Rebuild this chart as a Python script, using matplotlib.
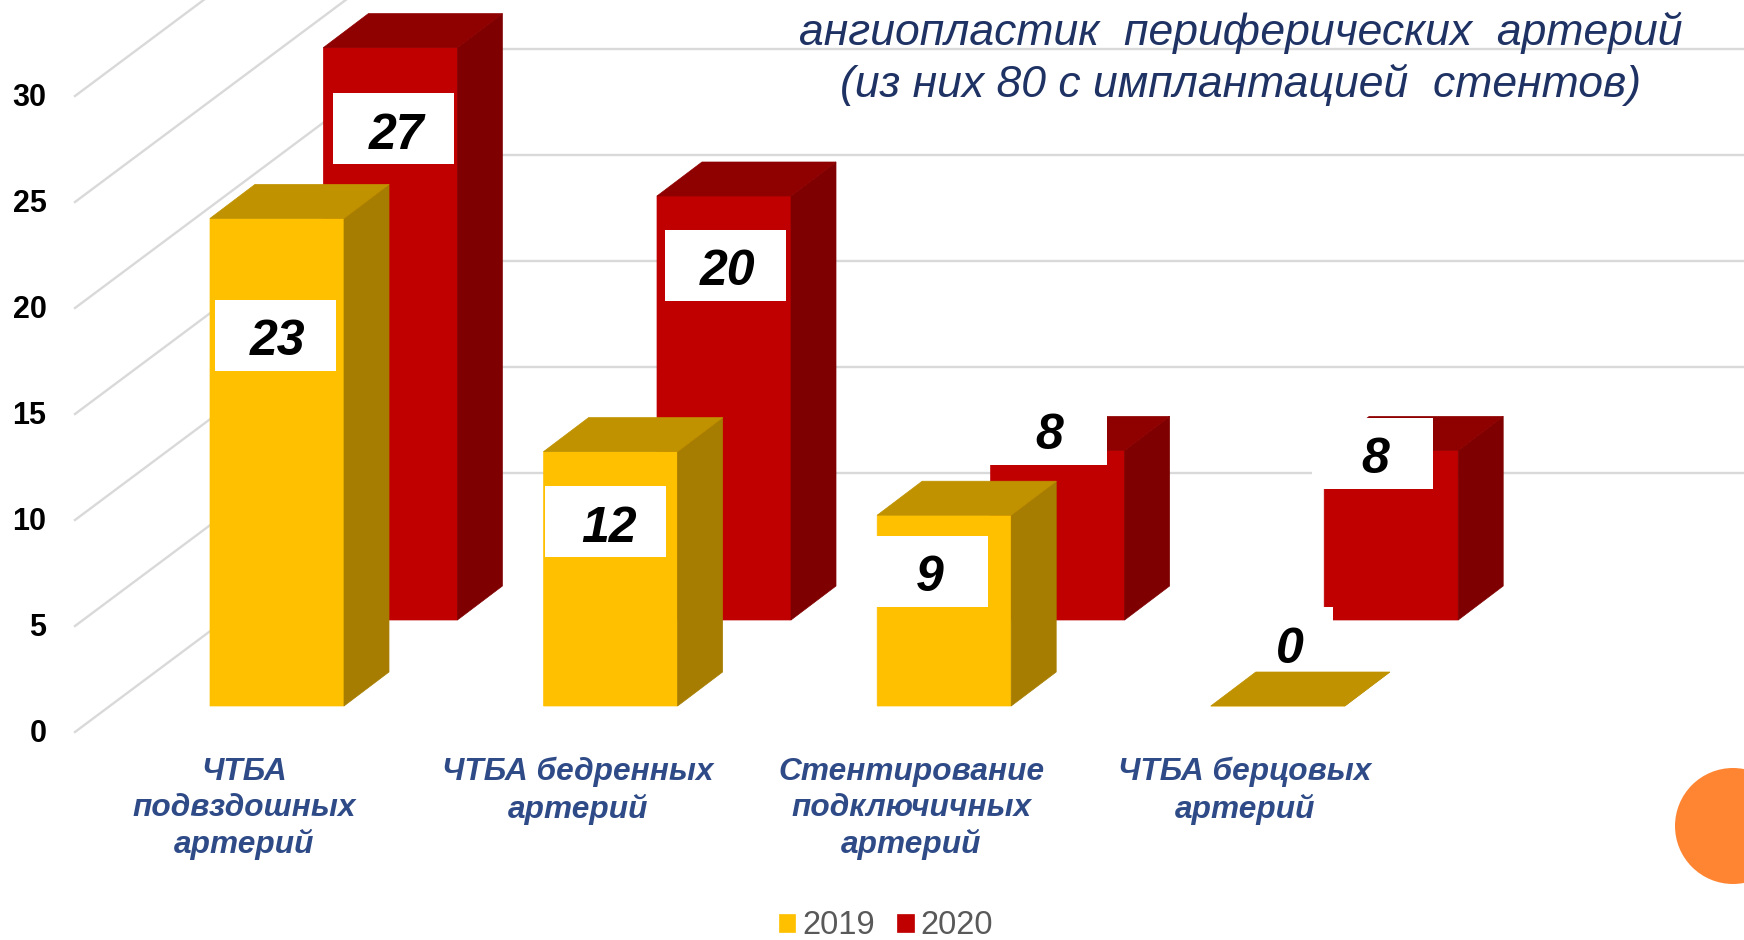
import matplotlib
matplotlib.use("Agg")
import matplotlib.pyplot as plt
from matplotlib.patches import Circle, Polygon, Rectangle
from matplotlib.transforms import IdentityTransform, ScaledTranslation

plt.rcParams['font.family'] = ['Liberation Sans', 'DejaVu Sans']

CATEGORIES = ["ЧТБА\nподвздошных\nартерий", "ЧТБА бедренных\nартерий",
              "Стентирование\nподключичных\nартерий", "ЧТБА берцовых\nартерий"]
VALUES_2019 = [23, 12, 9, 0]
VALUES_2020 = [27, 20, 8, 8]
Y_TICKS = [0, 5, 10, 15, 20, 25, 30]
TITLE = "ангиопластик  периферических  артерий\n(из них 80 с имплантацией  стентов)"

# white label boxes: offset in px from the centre/top of the bar's front face
BOX_2019 = [(-2, 117), (-5, 70), (-17, 56), (-5, -64)]
BOX_2020 = [(3, 81), (1, 69), (-11, -21), (-19, 3)]
TEXT_SHIFT = [(3, 7), (3, 7), (3, 7), (17, 8)]

W, H = 1744, 940
AX_LEFT, AX_BOTTOM = 52, 752
PX_X = 333.6   # px per category
PX_Y = 21.2    # px per value unit
X0_PX, Y0_PX = 277, 732

BAR_W = 134 / PX_X
DEPTH_X, DEPTH_Y = 45 / PX_X, 34 / PX_Y
BASE_2019 = (Y0_PX - 706) / PX_Y
BASE_2020 = (Y0_PX - 620) / PX_Y
SHIFT_2020 = 113.4 / PX_X
WALL_X0, WALL_X1, WALL_RISE = -202 / PX_X, 145 / PX_X, 259 / PX_Y


def draw_bars(ax, xs, values, base, colors, z, label):
    front, side, top = colors
    ax.bar(xs, values, BAR_W, bottom=base, color=front, edgecolor=front, lw=0.5, zorder=z,
           label=label, snap=False)
    for x, v in zip(xs, values):
        left, right = x - BAR_W / 2, x + BAR_W / 2
        y = base + v
        ax.add_patch(Polygon([(right, base), (right + DEPTH_X, base + DEPTH_Y),
                              (right + DEPTH_X, y + DEPTH_Y), (right, y)],
                             facecolor=side, edgecolor=side, lw=0.5, zorder=z))
        ax.add_patch(Polygon([(left, y), (left + DEPTH_X, y + DEPTH_Y),
                              (right + DEPTH_X, y + DEPTH_Y), (right, y)],
                             facecolor=top, edgecolor=top, lw=0.5, zorder=z))


def draw_labels(ax, xs, values, base, boxes, shifts):
    box_w, box_h = 121 / PX_X, 71 / PX_Y
    for i, (x, v) in enumerate(zip(xs, values)):
        cx = x + boxes[i][0] / PX_X
        cy = base + v - boxes[i][1] / PX_Y
        ax.add_patch(Rectangle((cx - box_w / 2, cy - box_h / 2), box_w, box_h,
                               color="white", lw=0, zorder=3 if v == 0 else 6))
        sx, sy = shifts[i]
        ax.text(cx + sx / PX_X, cy - sy / PX_Y, str(v), ha="center", va="center",
                fontsize=36, fontweight="bold", fontstyle="italic", color="black", zorder=7)


fig = plt.figure(figsize=(W / 100, H / 100), dpi=100)
ax = fig.add_axes([AX_LEFT / W, 1 - AX_BOTTOM / H, 1 - AX_LEFT / W, AX_BOTTOM / H])
ax.set_xlim((AX_LEFT - X0_PX) / PX_X, (W - X0_PX) / PX_X)
ax.set_ylim((Y0_PX - AX_BOTTOM) / PX_Y, Y0_PX / PX_Y)
for s in ax.spines.values():
    s.set_visible(False)

# walls of the 3d box
x_end = (W - X0_PX) / PX_X
for t in Y_TICKS:
    ax.plot([WALL_X0, WALL_X1, x_end], [t, t + WALL_RISE, t + WALL_RISE],
            color="#D9D9D9", lw=1.7, zorder=1, solid_joinstyle="miter")

xs = list(range(len(CATEGORIES)))
xs_2020 = [x + SHIFT_2020 for x in xs]
draw_bars(ax, xs_2020, VALUES_2020, BASE_2020, ("#C00000", "#7F0000", "#8F0000"), 2, "2020")
draw_bars(ax, xs, VALUES_2019, BASE_2019, ("#FFC000", "#A67D00", "#C09200"), 4, "2019")
draw_labels(ax, xs, VALUES_2019, BASE_2019, BOX_2019, TEXT_SHIFT)
draw_labels(ax, xs_2020, VALUES_2020, BASE_2020, BOX_2020, [(3, 7)] * 4)

ax.set_yticks(Y_TICKS)
ax.tick_params(axis="y", length=0, pad=4, labelsize=22, labelcolor="black")
nudge = ScaledTranslation(0, 1.2 / 100, fig.dpi_scale_trans)
for lab in ax.get_yticklabels():
    lab.set_fontweight("bold")
    lab.set_transform(lab.get_transform() + nudge)

ax.set_xticks([x - 33 / PX_X for x in xs])
ax.set_xticklabels(CATEGORIES, fontsize=22.8, fontweight="bold", fontstyle="italic",
                   color="#2F4B87", linespacing=1.26)
ax.tick_params(axis="x", length=0, pad=3.5)

fig.text(1241 / W, 1 - 59 / H, TITLE, ha="center", va="center", fontsize=32,
         fontstyle="italic", color="#1F3264", linespacing=1.3)

handles, labels = ax.get_legend_handles_labels()
order = [labels.index("2019"), labels.index("2020")]
fig.legend([handles[i] for i in order], [labels[i] for i in order], ncol=2, frameon=False,
           loc="center", bbox_to_anchor=(886 / W, 1 - 926 / H), fontsize=23.5,
           labelcolor="#595959", handlelength=0.5, handleheight=0.5,
           handletextpad=0.2, columnspacing=0.7)

fig.add_artist(Circle((1733, H - 826), 58, color="#FF8533", lw=0, transform=IdentityTransform()))

fig.savefig("out.png", dpi=100)
